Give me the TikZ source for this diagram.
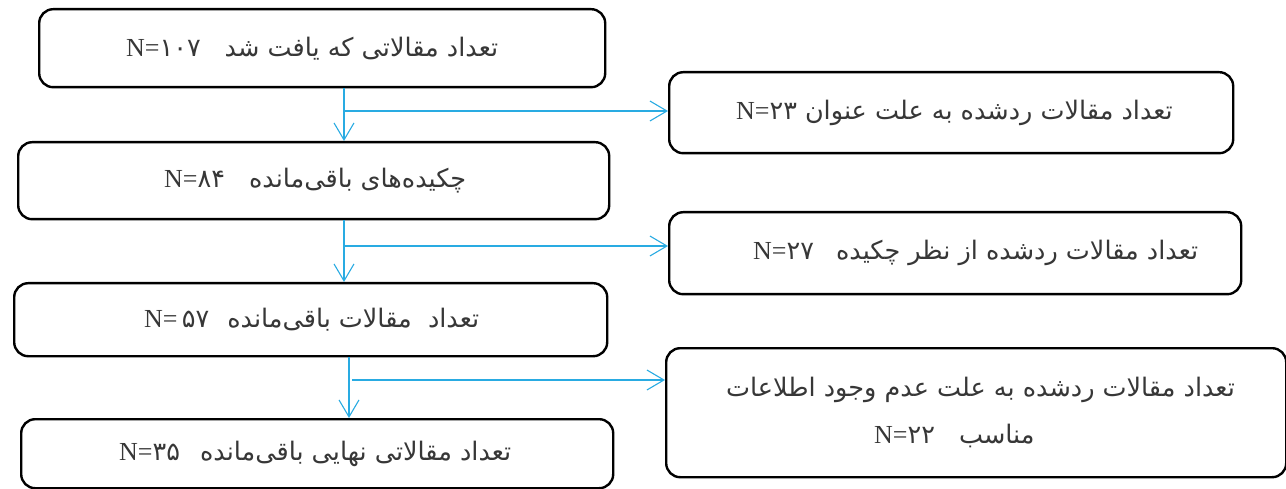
\documentclass[tikz,border=0pt]{standalone}
\usepackage{fontspec}
\newfontfamily\fa[Script=Arabic]{DejaVu Sans}
\newfontfamily\lat{Liberation Serif}
\TeXXeTstate=1
\usetikzlibrary{arrows.meta}
\definecolor{flow}{RGB}{41,171,226}
\definecolor{txt}{RGB}{55,55,55}
\newcommand{\fat}[1]{{\fa\beginR #1\endR}}
\newcommand{\nn}[1]{{\lat\fontsize{26}{30}\selectfont N=}{\fa #1}}
\newcommand{\lineat}[3]{\makebox[#1][l]{\hspace*{#2}#3}}
\begin{document}
\begin{tikzpicture}[x=1pt,y=-1pt,
  box/.style={draw=black, line width=2.4pt, rounded corners=14pt, inner sep=0pt,
    text=txt, font=\fontsize{25.5}{47}\selectfont, anchor=north west, align=left},
  flowline/.style={draw=flow, line width=1.1pt},
  link/.style={flowline, -{Straight Barb[length=17pt,width=20pt,line width=1.1pt]}},
]
\useasboundingbox (0,0) rectangle (1286,489);
% left column
\node[box, minimum height=78pt] (b1) at (38,8)
  {\lineat{566pt}{87pt}{\nn{۱۰۷}\hspace{24pt}\fat{تعداد مقالاتی که یافت شد}}};
\node[box, minimum height=77pt] (b2) at (17,141)
  {\lineat{591pt}{146pt}{\nn{۸۴}\hspace{24pt}\fat{چکیده‌های باقی‌مانده}}};
\node[box, minimum height=73pt] (b3) at (13,282)
  {\lineat{593pt}{130pt}{\nn{\,۵۷}\hspace{18pt}\fat{تعداد\ \ مقالات باقی‌مانده}}};
\node[box, minimum height=69pt] (b4) at (20,418)
  {\lineat{592pt}{98pt}{\nn{۳۵}\hspace{20pt}\fat{تعداد مقالاتی نهایی باقی‌مانده}}};
% right column
\node[box, minimum height=81pt] (r1) at (668,71)
  {\lineat{564pt}{67pt}{\nn{۲۳}\hspace{8pt}\fat{تعداد مقالات ردشده به علت عنوان}}};
\node[box, minimum height=82pt] (r2) at (668,211)
  {\lineat{572pt}{84pt}{\nn{۲۷}\hspace{22pt}\fat{تعداد مقالات ردشده از نظر چکیده}}};
\node[box, minimum height=129pt] (r3) at (665,347)
  {\lineat{620pt}{60pt}{\fat{تعداد مقالات ردشده به علت عدم وجود اطلاعات}}\\
   \lineat{620pt}{208pt}{\nn{۲۲}\hspace{24pt}\fat{مناسب}}};
% connectors
\coordinate (j1) at (344,111);
\coordinate (j2) at (344,246);
\coordinate (j3) at (349,380);
\coordinate (k3) at (352,380);
\draw[link] (b1.south -| j1) -- (b2.north -| j1);
\draw[link] (j1) -- (r1.west |- j1);
\draw[link] (b2.south -| j2) -- (b3.north -| j2);
\draw[link] (j2) -- (r2.west |- j2);
\draw[link] (b3.south -| j3) -- (b4.north -| j3);
\draw[link] (k3) -- (r3.west |- k3);
\end{tikzpicture}
\end{document}
